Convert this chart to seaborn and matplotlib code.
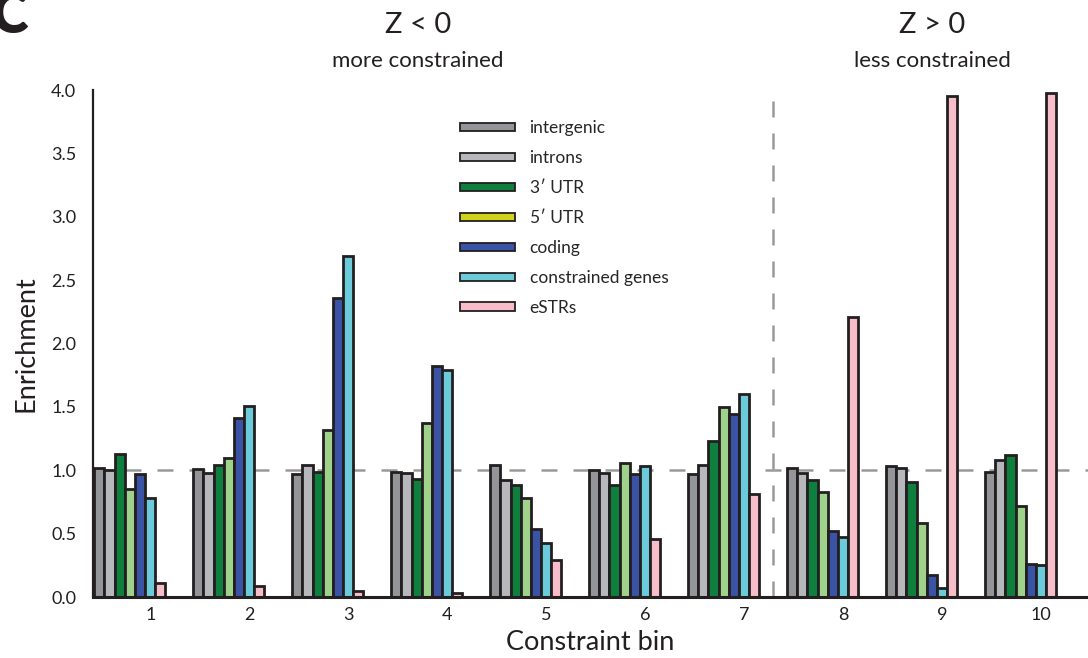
import numpy as np
import pandas as pd
import seaborn as sns
import matplotlib.pyplot as plt
from matplotlib.patches import Patch

# values
bins = ["1", "2", "3", "4", "5", "6", "7", "8", "9", "10"]
regions = ["intergenic", "introns", "3\u2032 UTR", "5\u2032 UTR", "coding", "constrained genes", "eSTRs"]

intergenic = [1.02, 1.01, 0.97, 0.99, 1.04, 1.00, 0.97, 1.02, 1.03, 0.99]
introns = [1.00, 0.98, 1.04, 0.98, 0.92, 0.98, 1.04, 0.98, 1.02, 1.08]
utr3 = [1.13, 1.04, 0.99, 0.93, 0.88, 0.88, 1.23, 0.92, 0.91, 1.12]
utr5 = [0.85, 1.10, 1.32, 1.37, 0.78, 1.06, 1.50, 0.83, 0.58, 0.72]
coding = [0.97, 1.41, 2.36, 1.82, 0.54, 0.97, 1.44, 0.52, 0.17, 0.26]
constrained = [0.78, 1.51, 2.69, 1.79, 0.43, 1.03, 1.60, 0.47, 0.07, 0.25]
estrs = [0.11, 0.09, 0.05, 0.03, 0.29, 0.46, 0.81, 2.21, 3.95, 3.98]

bar_colors = ["#939598", "#b6b8bb", "#0f7f3d", "#9fd28b", "#3a53a4", "#6bcbdb", "#f7bdc8"]
legend_colors = ["#939598", "#b6b8bb", "#0f7f3d", "#d0d31d", "#3a53a4", "#6bcbdb", "#f7bdc8"]
edge = "#231f20"

series = [intergenic, introns, utr3, utr5, coding, constrained, estrs]
df = pd.DataFrame({
    "bin": np.tile(bins, len(regions)),
    "region": np.repeat(regions, len(bins)),
    "value": np.concatenate(series),
})

sns.set_style("white")
plt.rcParams["font.family"] = ["Lato", "DejaVu Sans"]

fig = plt.figure(figsize=(10.88, 6.58), dpi=100)
ax = fig.add_axes([0.0855, 0.0927, 0.9145, 0.7705])

group_w = 0.72
sns.barplot(data=df, x="bin", y="value", hue="region", order=bins, hue_order=regions,
            palette=bar_colors, width=group_w, gap=0, saturation=1,
            edgecolor=edge, linewidth=2.0, legend=False, ax=ax)

# reference lines
dash = (0, (6.4, 6.4))
ax.axhline(1.0, color="#9a9a9a", linestyle=dash, linewidth=1.8, zorder=0)
ax.axvline(6.5, color="#9a9a9a", linestyle=dash, linewidth=1.8, zorder=0)

# tick marks sit under the "constrained genes" bar of each group
bw = group_w / len(regions)
ax.set_xticks(np.arange(len(bins)) + 2 * bw)
ax.set_xticklabels(bins)
ax.set_xlim(-0.372, 9.68)
ax.set_ylim(0, 4.0)
yt = np.arange(0, 4.01, 0.5)
ax.set_yticks(yt)
ax.set_yticklabels([f"{v:.1f}" for v in yt])
ax.tick_params(axis="both", direction="in", labelsize=13, colors=edge, width=1.2)
ax.tick_params(axis="x", length=5, pad=7)
ax.tick_params(axis="y", length=7, pad=12)

sns.despine(ax=ax)
ax.spines["left"].set_linewidth(1.6)
ax.spines["bottom"].set_linewidth(2.2)
ax.spines["left"].set_color(edge)
ax.spines["bottom"].set_color(edge)

ax.set_xlabel("Constraint bin", fontsize=19.5, color=edge, labelpad=5)
ax.set_ylabel("Enrichment", fontsize=19.5, color=edge, labelpad=9)

handles = [Patch(facecolor=c, edgecolor=edge, linewidth=1.3, label=r)
           for c, r in zip(legend_colors, regions)]
ax.legend(handles=handles, loc="upper left", bbox_to_anchor=(0.369, 0.94), frameon=False,
          handlelength=3.15, handleheight=0.35, handletextpad=0.85, labelspacing=0.8,
          borderpad=0, borderaxespad=0, fontsize=12.5)

fig.text(0.384, 0.962, "Z < 0", ha="center", va="center", fontsize=21, color=edge)
fig.text(0.384, 0.908, "more constrained", ha="center", va="center", fontsize=16, color=edge)
fig.text(0.857, 0.962, "Z > 0", ha="center", va="center", fontsize=21, color=edge)
fig.text(0.857, 0.908, "less constrained", ha="center", va="center", fontsize=16, color=edge)
fig.text(-0.008, 0.975, "C", ha="left", va="center", fontsize=40, fontweight="heavy", color=edge)

plt.savefig("out.png", dpi=100)
